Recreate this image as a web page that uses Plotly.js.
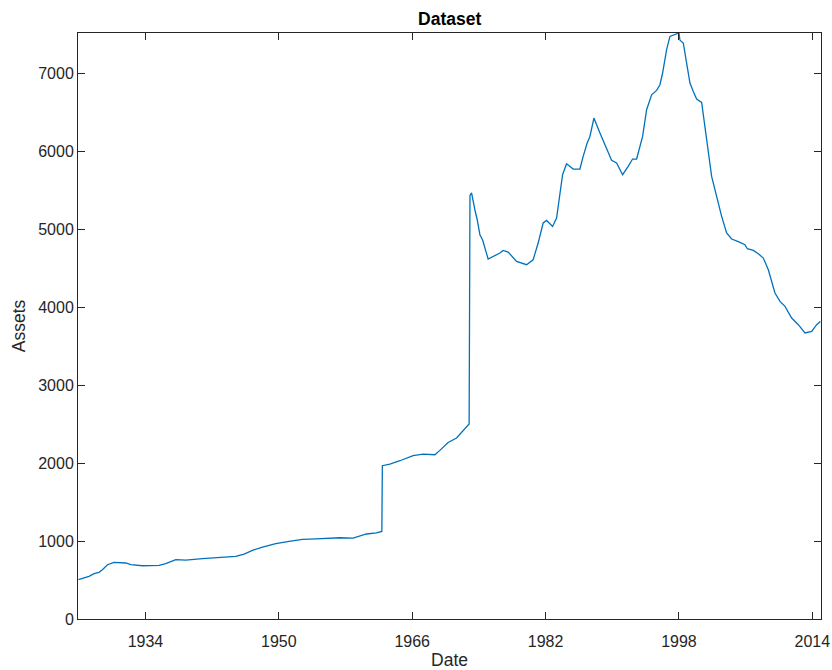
<!DOCTYPE html>
<html>
<head>
<meta charset="utf-8">
<script src="https://cdn.plot.ly/plotly-3.0.1.min.js"></script>
<style>html,body{margin:0;padding:0;background:#fff;}#chart{width:832px;height:670px;}</style>
</head>
<body>
<div id="chart"></div>
<script>
// Decimal years (Date) and Assets values
const years = [
  1925.96, 1926.63, 1927.23, 1927.83, 1928.43, 1928.84, 1929.44, 1930.23, 1931.64, 1932.24,
  1933.64, 1935.63, 1936.44, 1937.64, 1938.84, 1940.84, 1943.24, 1944.84, 1945.83, 1946.84,
  1948.04, 1949.64, 1951.23, 1952.84, 1954.44, 1955.43, 1957.32, 1958.91, 1960.52, 1961.72,
  1962.36, 1962.42, 1963.32, 1964.52, 1966.11, 1967.31, 1968.72, 1969.32, 1970.31, 1971.32,
  1972.11, 1972.83, 1972.93, 1973.12, 1973.52, 1973.80, 1974.12, 1974.44, 1975.11, 1975.92,
  1976.52, 1976.91, 1977.51, 1978.52, 1979.72, 1980.51, 1981.11, 1981.71, 1982.12, 1982.84,
  1983.32, 1984.04, 1984.52, 1985.31, 1986.12, 1986.51, 1986.99, 1987.32, 1987.80, 1988.52,
  1989.32, 1989.92, 1990.52, 1991.24, 1991.91, 1992.44, 1992.92, 1993.64, 1994.12, 1994.72,
  1995.32, 1995.72, 1996.04, 1996.52, 1996.92, 1997.40, 1997.72, 1998.00, 1998.12, 1998.52,
  1998.92, 1999.32, 1999.72, 2000.12, 2000.72, 2001.12, 2001.52, 2001.92, 2002.52, 2003.12,
  2003.72, 2004.32, 2005.12, 2005.92, 2006.20, 2006.92, 2007.52, 2008.12, 2008.72, 2009.52,
  2010.12, 2010.72, 2011.52, 2012.32, 2013.12, 2013.92, 2014.52, 2014.96
];
const assets = [
  504, 525, 546, 581, 598, 632, 696, 726, 718, 696,
  683, 687, 709, 760, 756, 773, 786, 803, 833, 880,
  923, 965, 995, 1021, 1028, 1033, 1042, 1038, 1090, 1103,
  1123, 1965, 1987, 2029, 2094, 2115, 2106, 2162, 2264, 2321,
  2414, 2500, 5430, 5462, 5247, 5119, 4927, 4863, 4615, 4658,
  4692, 4726, 4705, 4585, 4542, 4606, 4820, 5077, 5110, 5033,
  5141, 5696, 5837, 5769, 5769, 5931, 6103, 6187, 6423, 6231,
  6017, 5880, 5846, 5696, 5803, 5897, 5897, 6187, 6529, 6721,
  6777, 6850, 7000, 7299, 7469, 7490, 7504, 7513, 7420, 7385,
  7128, 6872, 6764, 6667, 6623, 6315, 5974, 5674, 5418, 5162,
  4949, 4872, 4837, 4799, 4747, 4726, 4683, 4628, 4478, 4179,
  4072, 4008, 3859, 3773, 3667, 3687, 3773, 3815
];
const xTicks = [1934, 1950, 1966, 1982, 1998, 2014];
const yTicks = [0, 1000, 2000, 3000, 4000, 5000, 6000, 7000];

const axisCommon = {
  showline: true, linecolor: '#262626', linewidth: 1, mirror: 'ticks',
  ticks: 'inside', ticklen: 7, tickcolor: '#262626', tickwidth: 1,
  showgrid: false, zeroline: false,
  tickfont: {family: 'Liberation Sans, Arial, sans-serif', size: 16, color: '#262626'}
};

Plotly.newPlot('chart', [{
  x: years, y: assets, type: 'scatter', mode: 'lines',
  line: {color: '#0072BD', width: 1.3}, showlegend: false
}], {
  width: 832, height: 670,
  margin: {l: 78, r: 11, t: 33, b: 51},
  paper_bgcolor: '#fff', plot_bgcolor: '#fff',
  title: {text: '<b>Dataset</b>', x: 0.5405, xanchor: 'center', y: 0.972, yanchor: 'middle',
          font: {family: 'Liberation Sans, Arial, sans-serif', size: 17.5, color: '#000'}},
  xaxis: Object.assign({}, axisCommon, {
    range: [1925.91, 2015.04], tickvals: xTicks, ticktext: xTicks.map(String),
    ticklabelstandoff: 8,
    title: {text: 'Date', standoff: 7, font: {family: 'Liberation Sans, Arial, sans-serif', size: 17.5, color: '#262626'}}
  }),
  yaxis: Object.assign({}, axisCommon, {
    range: [0, 7513], tickvals: yTicks, ticktext: yTicks.map(String),
    title: {text: 'Assets', standoff: 8, font: {family: 'Liberation Sans, Arial, sans-serif', size: 17.5, color: '#262626'}}
  })
}, {displayModeBar: false, staticPlot: true});
</script>
</body>
</html>
